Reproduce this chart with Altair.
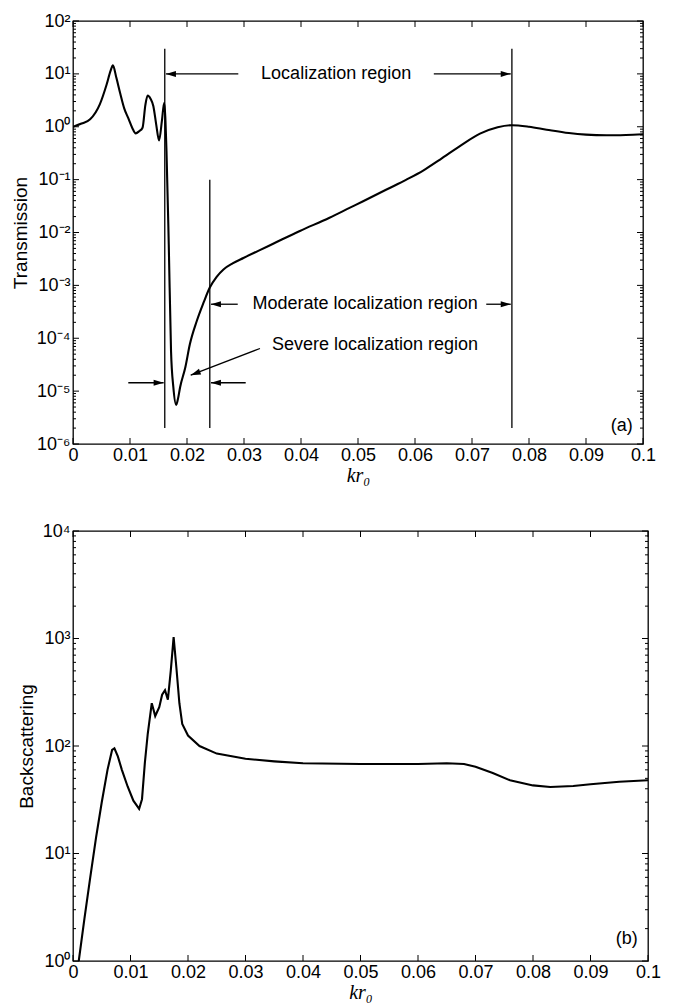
import altair as alt
import pandas as pd
import math

# ---------------- data ----------------
trans_k = [0.0, 0.0015, 0.0030, 0.0047, 0.0059, 0.0066, 0.0070, 0.0076, 0.0083, 0.0090, 0.0097,
           0.0104, 0.0110, 0.0116, 0.0122, 0.0127, 0.0131, 0.0136, 0.0141, 0.0146, 0.0151,
           0.0156, 0.0160, 0.0164, 0.0168, 0.0172, 0.0176, 0.0181, 0.0184, 0.0188, 0.0197,
           0.0205, 0.0217, 0.0229, 0.0240, 0.0252, 0.0264, 0.0280, 0.0299, 0.0325, 0.0352,
           0.0398, 0.0450, 0.0486, 0.0509, 0.0550, 0.0585, 0.0615, 0.0644, 0.0680, 0.0714,
           0.0745, 0.0770, 0.0800, 0.0831, 0.0870, 0.0900, 0.0936, 0.0970, 0.1000]
trans_T = [1.0, 1.15, 1.38, 2.65, 6.3, 11.5, 14.5, 8.5, 4.2, 2.2, 1.45,
           0.95, 0.75, 0.82, 0.96, 2.6, 3.9, 3.4, 2.45, 1.1, 0.55,
           1.3, 2.85, 0.35, 0.006, 5.7e-5, 1.2e-5, 5.5e-6, 7e-6, 1.2e-5, 2.8e-5,
           7.7e-5, 2.1e-4, 4.7e-4, 9.1e-4, 1.45e-3, 2.0e-3, 2.6e-3, 3.3e-3, 4.5e-3, 6.2e-3,
           1.07e-2, 1.9e-2, 2.95e-2, 3.9e-2, 6.5e-2, 0.10, 0.15, 0.24, 0.44, 0.74,
           0.98, 1.07, 1.0, 0.88, 0.76, 0.71, 0.69, 0.70, 0.72]

back_k = [0.0010, 0.0020, 0.0030, 0.0040, 0.0050, 0.0060, 0.0068, 0.0072, 0.0078, 0.0085,
          0.0095, 0.0105, 0.0115, 0.0120, 0.0125, 0.0130, 0.0137, 0.0143, 0.0150, 0.0155,
          0.0160, 0.0165, 0.0170, 0.0175, 0.0180, 0.0185, 0.0190, 0.0200, 0.0220, 0.0250,
          0.0300, 0.0350, 0.0400, 0.0500, 0.0600, 0.0650, 0.0680, 0.0700, 0.0730, 0.0760,
          0.0800, 0.0830, 0.0870, 0.0900, 0.0950, 0.1000]
back_B = [1.0, 2.5, 6.0, 14, 30, 60, 92, 95, 80, 60,
          42, 31, 26, 32, 70, 130, 250, 190, 230, 300,
          330, 270, 500, 1030, 520, 250, 160, 125, 100, 85,
          76, 72, 69, 68, 68, 69, 68, 64, 56, 48,
          43, 41.5, 42.5, 44, 46.5, 48]

x_ticks = [0, 0.01, 0.02, 0.03, 0.04, 0.05, 0.06, 0.07, 0.08, 0.09, 0.1]
top_decades = [1e-6, 1e-5, 1e-4, 1e-3, 1e-2, 1e-1, 1e0, 1e1, 1e2]
bot_decades = [1e0, 1e1, 1e2, 1e3, 1e4]
minor_mult = [2, 3, 4, 5, 6, 7, 8, 9]

# region boundary lines (panel a)
vline_k = [0.0161, 0.0240, 0.0770]
vline_top = [30, 0.1, 30]
vline_bot = [2e-6, 2e-6, 2e-6]

# arrows (panel a): start -> tip, head angle in degrees (0 = pointing right)
arrow_k1 = [0.0290, 0.0633, 0.0289, 0.0725, 0.0328, 0.0097, 0.0303]
arrow_T1 = [10, 10, 4.4e-4, 4.4e-4, 6.4e-5, 1.44e-5, 1.44e-5]
arrow_k2 = [0.0163, 0.0768, 0.0242, 0.0768, 0.02065, 0.0159, 0.0242]
arrow_T2 = [10, 10, 4.4e-4, 4.4e-4, 2.0e-5, 1.44e-5, 1.44e-5]
arrow_ang = [180, 0, 180, 0, 159, 0, 180]

note_text = ["Localization region", "Moderate localization region", "Severe localization region"]
note_k = [0.0330, 0.0315, 0.0349]
note_T = [10, 4.4e-4, 7.5e-5]

FONT = "Liberation Sans"
SUP = {"-6": "⁻⁶", "-5": "⁻⁵", "-4": "⁻⁴", "-3": "⁻³", "-2": "⁻²", "-1": "⁻¹",
       "0": "⁰", "1": "¹", "2": "²", "3": "³", "4": "⁴"}


def label_expr(decades):
    expr = "''"
    for d in decades:
        e = str(int(round(math.log10(d))))
        expr = f"abs(datum.value - {d}) < {d * 0.01} ? '10{SUP[e]}' : ({expr})"
    return expr


ARROW = "M0,0L-2,-0.6L-2,0.6Z"


def panel(W, H, ydom, decades, line_df, ycol, ytitle, tag, tag_k, tag_v, extra=None,
          interp="linear"):
    xs = alt.Scale(domain=[0, 0.1], nice=False, zero=False)
    ys = alt.Scale(type="log", domain=ydom, nice=False)
    xa = alt.Axis(values=x_ticks, format=".2~f", tickSize=0, domain=False, grid=False,
                  labelFont=FONT, labelFontSize=18, labelColor="black", labelPadding=2,
                  labelFlush=False,
                  title="kr₀", titleFont="Liberation Serif", titleFontStyle="italic",
                  titleFontWeight="normal", titleFontSize=20, titleColor="black",
                  titlePadding=1)
    ya = alt.Axis(values=decades, labelExpr=label_expr(decades), tickSize=0,
                  domain=False, grid=False, labelFont=FONT, labelFontSize=18,
                  labelColor="black", labelPadding=3, labelFlush=False,
                  title=ytitle, titleFont=FONT, titleFontSize=19,
                  titleFontWeight="normal", titleColor="black", titlePadding=6)

    def X(f):
        return alt.X(f, scale=xs, axis=xa, title="kr₀")

    def Y(f):
        return alt.Y(f, scale=ys, axis=ya, title=ytitle)

    main = alt.Chart(line_df).mark_line(color="black", strokeWidth=2.1, clip=True,
                                        interpolate=interp).encode(
        x=X("k:Q"), y=Y(f"{ycol}:Q"))
    layers = [main]
    # inward ticks
    xt = pd.DataFrame({"k": x_ticks})
    for y0, y1 in [(H, H - 6), (0, 6)]:
        layers.append(alt.Chart(xt).mark_rule(color="black", strokeWidth=1).encode(
            x=X("k:Q"), y=alt.value(y0), y2=alt.value(y1)))
    maj = pd.DataFrame({"v": decades})
    mins = [m * d for d in decades[:-1] for m in minor_mult]
    mn = pd.DataFrame({"v": mins})
    for df, L in [(maj, 6), (mn, 3)]:
        for x0, x1 in [(0, L), (W, W - L)]:
            layers.append(alt.Chart(df).mark_rule(color="black", strokeWidth=1).encode(
                y=Y("v:Q"), x=alt.value(x0), x2=alt.value(x1)))
    if extra:
        layers.extend(extra(X, Y))
    tagdf = pd.DataFrame({"k": [tag_k], "v": [tag_v], "t": [tag]})
    layers.append(alt.Chart(tagdf).mark_text(font=FONT, fontSize=18, align="right",
                                             baseline="middle", color="black").encode(
        x=X("k:Q"), y=Y("v:Q"), text="t:N"))
    return alt.layer(*layers).properties(width=W, height=H)


def annotations(X, Y):
    vl = pd.DataFrame({"k": vline_k, "a": vline_top, "b": vline_bot})
    ar = pd.DataFrame({"k1": arrow_k1, "v1": arrow_T1, "k2": arrow_k2, "v2": arrow_T2,
                       "ang": arrow_ang})
    nt = pd.DataFrame({"k": note_k, "v": note_T, "t": note_text})
    return [
        alt.Chart(vl).mark_rule(color="black", strokeWidth=1.3).encode(
            x=X("k:Q"), y=Y("a:Q"), y2="b:Q"),
        alt.Chart(ar).mark_rule(color="black", strokeWidth=1.3).encode(
            x=X("k1:Q"), x2="k2:Q", y=Y("v1:Q"), y2="v2:Q"),
        alt.Chart(ar).mark_point(shape=ARROW, filled=True, size=100, color="black",
                                 opacity=1, strokeWidth=0).encode(
            x=X("k2:Q"), y=Y("v2:Q"), angle=alt.Angle("ang:Q", scale=None)),
        alt.Chart(nt).mark_text(font=FONT, fontSize=18, align="left", baseline="middle",
                                color="black").encode(
            x=X("k:Q"), y=Y("v:Q"), text="t:N"),
    ]


top_df = pd.DataFrame({"k": trans_k, "T": trans_T})
bot_df = pd.DataFrame({"k": back_k, "B": back_B})

top = panel(570, 423, [1e-6, 1e2], top_decades, top_df, "T", "Transmission",
            "(a)", 0.0982, 2.2e-6, extra=annotations, interp="monotone")
bot = panel(575, 430, [1e0, 1e4], bot_decades, bot_df, "B", "Backscattering",
            "(b)", 0.0982, 1.6)

chart = alt.vconcat(top, bot, spacing=35).properties(
    padding={"left": 10, "top": 11, "right": 5, "bottom": 0},
    background="white",
).configure_view(stroke="black", strokeWidth=1.3)

chart.save("out.html", embed_options={"renderer": "svg", "actions": False})
